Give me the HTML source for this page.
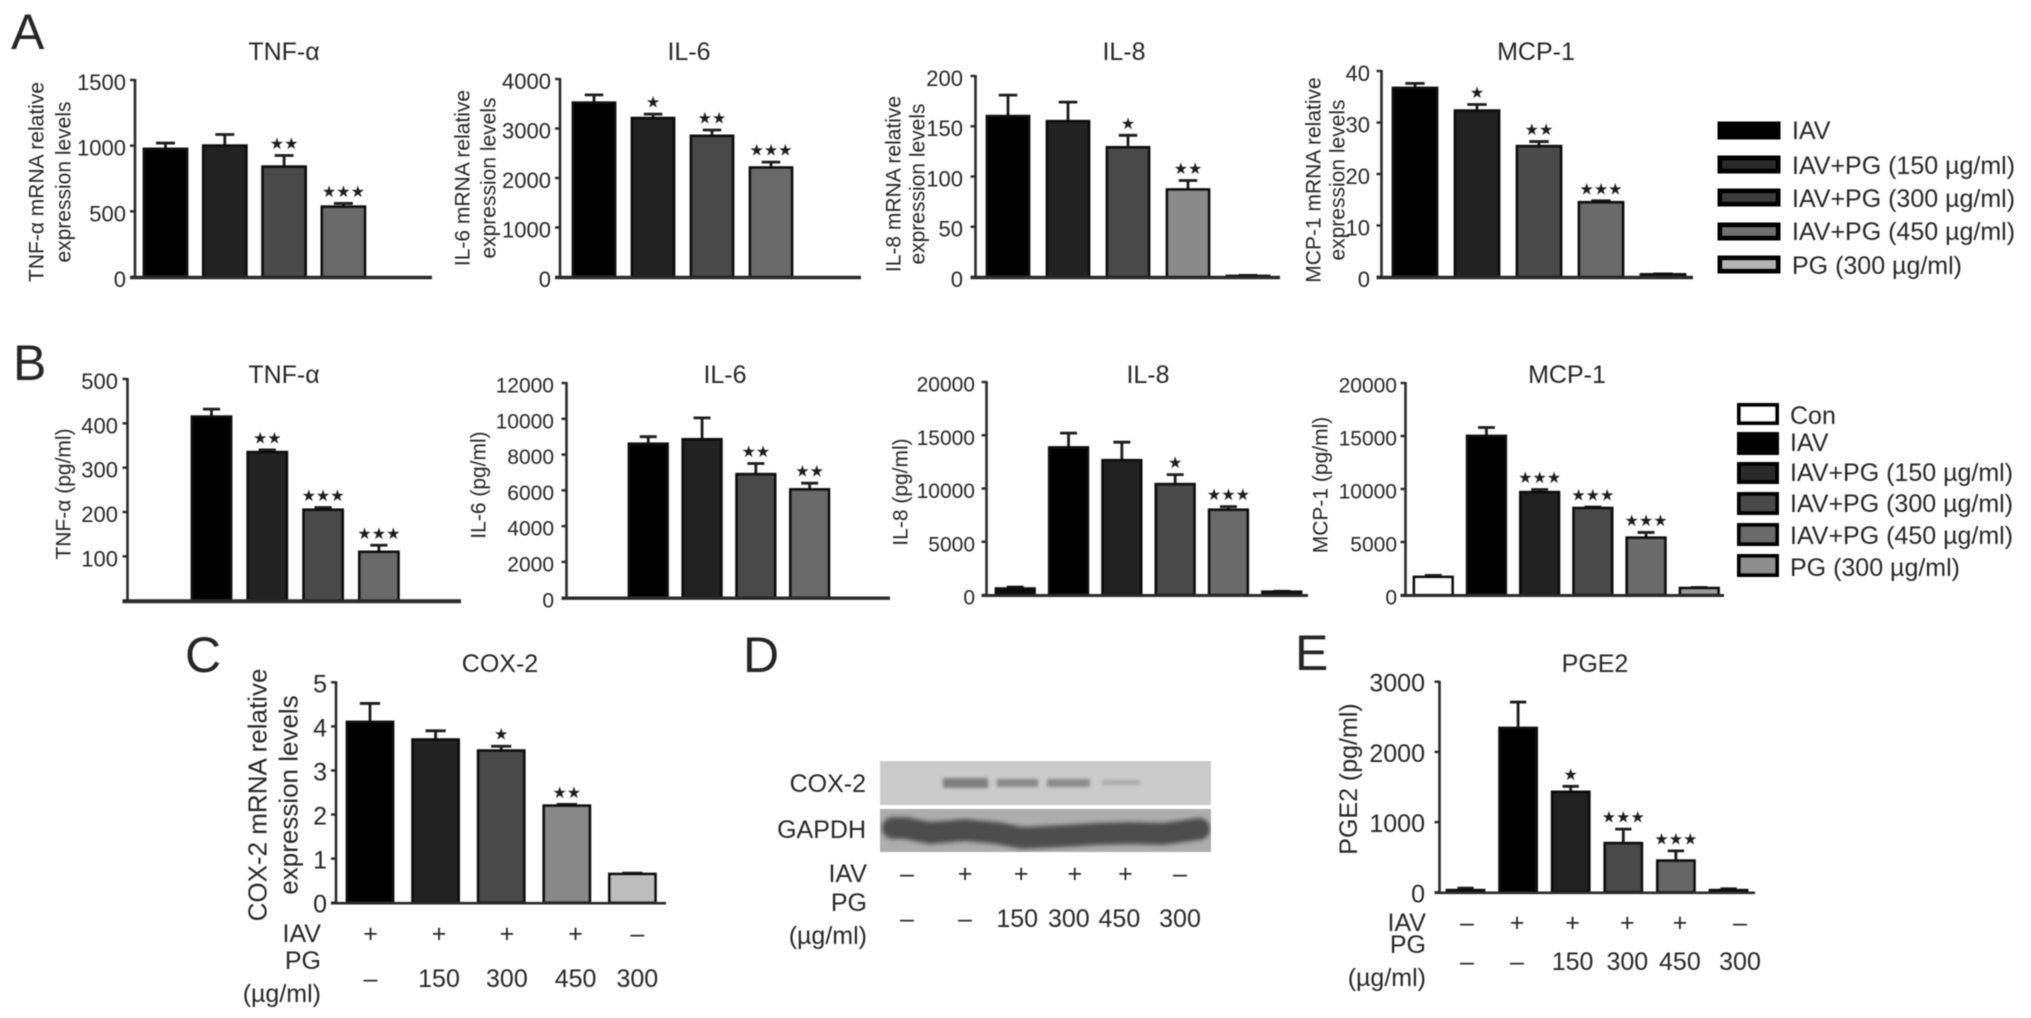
<!DOCTYPE html>
<html lang="en">
<head>
<meta charset="utf-8">
<title>IAV and PG cytokine expression panels</title>
<style>
html,body{margin:0;padding:0;background:#fff;width:2031px;height:1018px;overflow:hidden}
svg{display:block}
text{font-family:"Liberation Sans",Arial,sans-serif;fill:#262626}
text.star{font-family:"DejaVu Sans",sans-serif;fill:#1c1c1c}
</style>
</head>
<body>
<svg id="fig" xmlns="http://www.w3.org/2000/svg" width="2031" height="1018" viewBox="0 0 2031 1018">
<defs>
<filter id="soft" filterUnits="userSpaceOnUse" x="0" y="0" width="2031" height="1018"><feGaussianBlur stdDeviation="0.65"/></filter>
<filter id="blot" x="-20%" y="-60%" width="140%" height="220%"><feGaussianBlur stdDeviation="1.6"/></filter>
<filter id="blot-wide" filterUnits="userSpaceOnUse" x="860" y="790" width="370" height="80"><feGaussianBlur stdDeviation="2.2"/></filter>
<clipPath id="gapdh-clip"><rect x="880" y="809" width="331" height="43"/></clipPath>
</defs>
<g id="root" filter="url(#soft)">
<text x="11" y="49" font-size="50">A</text>
<text x="13" y="380" font-size="50">B</text>
<text x="185" y="672" font-size="50">C</text>
<text x="743" y="672" font-size="50">D</text>
<text x="1295" y="670" font-size="50">E</text>

<g>
<rect x="1720" y="124" width="58" height="13" fill="#000" stroke="#000" stroke-width="5"/>
<text x="1792" y="139" font-size="25">IAV</text>
<rect x="1720" y="158" width="58" height="13" fill="#2a2a2a" stroke="#000" stroke-width="5"/>
<text x="1792" y="174" font-size="25">IAV+PG (150 µg/ml)</text>
<rect x="1720" y="191" width="58" height="13" fill="#3c3c3c" stroke="#000" stroke-width="5"/>
<text x="1792" y="207" font-size="25">IAV+PG (300 µg/ml)</text>
<rect x="1720" y="225" width="58" height="13" fill="#707070" stroke="#000" stroke-width="5"/>
<text x="1792" y="240" font-size="25">IAV+PG (450 µg/ml)</text>
<rect x="1720" y="258" width="58" height="13" fill="#b4b4b4" stroke="#000" stroke-width="5"/>
<text x="1792" y="274" font-size="25">PG (300 µg/ml)</text>
</g>

<g>
<rect x="1739" y="405" width="38" height="18" fill="#fff" stroke="#000" stroke-width="4"/>
<text x="1790" y="424" font-size="25">Con</text>
<rect x="1739" y="434" width="38" height="19" fill="#000" stroke="#000" stroke-width="4"/>
<text x="1790" y="451" font-size="25">IAV</text>
<rect x="1739" y="464" width="38" height="18" fill="#2a2a2a" stroke="#000" stroke-width="4"/>
<text x="1790" y="481" font-size="25">IAV+PG (150 µg/ml)</text>
<rect x="1739" y="494" width="38" height="19" fill="#4a4a4a" stroke="#000" stroke-width="4"/>
<text x="1790" y="512" font-size="25">IAV+PG (300 µg/ml)</text>
<rect x="1739" y="525" width="38" height="19" fill="#6a6a6a" stroke="#000" stroke-width="4"/>
<text x="1790" y="544" font-size="25">IAV+PG (450 µg/ml)</text>
<rect x="1739" y="556" width="38" height="19" fill="#8e8e8e" stroke="#000" stroke-width="4"/>
<text x="1790" y="576" font-size="25">PG (300 µg/ml)</text>
</g>

<g>
<rect x="880" y="761" width="331" height="44" fill="#cbcbcb"/>
<rect x="880" y="809" width="331" height="43" fill="#adadad"/>
<g filter="url(#blot)">
<rect x="943" y="778" width="45" height="10" fill="#7e7e7e"/>
<rect x="997" y="779" width="41" height="8" fill="#888"/>
<rect x="1047" y="779" width="43" height="8" fill="#8a8a8a"/>
<rect x="1102" y="780" width="38" height="5" fill="#aaa"/>
</g>
<g clip-path="url(#gapdh-clip)">
<polyline points="893,828 905,828 930,833 965,830 997,833 1023,838 1063,836 1097,834 1130,833 1163,834 1199,829" fill="none" stroke="#4e4e4e" stroke-width="22" stroke-linecap="round" filter="url(#blot-wide)"/>
</g>
<text x="866" y="792" font-size="25" text-anchor="end">COX-2</text>
<text x="866" y="838" font-size="25" text-anchor="end">GAPDH</text>
</g>
</g>
</svg>

<script>
// Panel A (mRNA)
const aTnfTicks = [0, 500, 1000, 1500];
const aTnfValues = [975, 1000, 840, 535];
const aTnfErrors = [1020, 1085, 925, 560];
const aTnfStars = [0, 0, 2, 3];

const aIl6Ticks = [0, 1000, 2000, 3000, 4000];
const aIl6Values = [3520, 3210, 2850, 2210];
const aIl6Errors = [3680, 3290, 2970, 2320];
const aIl6Stars = [0, 1, 2, 3];

const aIl8Ticks = [0, 50, 100, 150, 200];
const aIl8Values = [160, 155, 129, 87, 1];
const aIl8Errors = [181, 174, 141, 96, 1.6];
const aIl8Stars = [0, 0, 1, 2, 0];

const aMcpTicks = [0, 10, 20, 30, 40];
const aMcpValues = [36.7, 32.3, 25.4, 14.5, 0.5];
const aMcpErrors = [37.6, 33.5, 26.3, 14.8, 0.6];
const aMcpStars = [0, 1, 2, 3, 0];

// Panel B (protein)
const bTnfTicks = [100, 200, 300, 400, 500];
const bTnfValues = [415, 335, 205, 110];
const bTnfErrors = [432, 340, 210, 125];
const bTnfStars = [0, 2, 3, 3];

const bIl6Ticks = [0, 2000, 4000, 6000, 8000, 10000, 12000];
const bIl6Values = [8600, 8850, 6900, 6050];
const bIl6Errors = [9000, 10050, 7500, 6400];
const bIl6Stars = [0, 0, 2, 2];

const bIl8Ticks = [0, 5000, 10000, 15000, 20000];
const bIl8Values = [600, 13850, 12650, 10400, 8000, 300];
const bIl8Errors = [750, 15200, 14350, 11300, 8300, 350];
const bIl8Stars = [0, 0, 0, 1, 3, 0];

const bMcpTicks = [0, 5000, 10000, 15000, 20000];
const bMcpValues = [1700, 15000, 9700, 8200, 5400, 650];
const bMcpErrors = [1850, 15800, 9950, 8300, 5900, 700];
const bMcpStars = [0, 0, 3, 3, 3, 0];

// Panel C
const cTicks = [0, 1, 2, 3, 4, 5];
const cValues = [4.1, 3.7, 3.45, 2.2, 0.65];
const cErrors = [4.52, 3.9, 3.55, 2.23, 0.67];
const cStars = [0, 0, 1, 2, 0];
const cIavRow = ['+', '+', '+', '+', '–'];
const cPgRow = ['–', '150', '300', '450', '300'];

// Panel D
const dIavRow = ['–', '+', '+', '+', '+', '–'];
const dPgRow = ['–', '–', '150', '300', '450', '300'];

// Panel E
const eTicks = [0, 1000, 2000, 3000];
const eValues = [30, 2340, 1430, 700, 450, 30];
const eErrors = [60, 2710, 1510, 900, 590, 50];
const eStars = [0, 0, 1, 3, 3, 0];
const eIavRow = ['–', '+', '+', '+', '+', '–'];
const ePgRow = ['–', '–', '150', '300', '450', '300'];

const svgNS = 'http://www.w3.org/2000/svg';
const root = document.getElementById('root');

function make(parent, tag, attrs) {
  const el = document.createElementNS(svgNS, tag);
  for (const k in attrs) el.setAttribute(k, attrs[k]);
  parent.appendChild(el);
  return el;
}

function label(parent, x, y, str, size, anchor, rotate) {
  const attrs = { x: x, y: y + size * 0.36, 'font-size': size, 'text-anchor': anchor };
  if (rotate) attrs.transform = 'rotate(-90 ' + x + ' ' + y + ')';
  const t = make(parent, 'text', attrs);
  t.textContent = str;
  return t;
}

function drawPanel(p) {
  const g = make(root, 'g', {});
  
  

  const top = p.ticks[p.ticks.length - 1];
  const yScale = v => p.y0 - (v / top) * (p.y0 - p.yTop);
  const xScale = i => p.barX + i * p.step;

  p.values.forEach((v, i) => {
    const x = xScale(i), cx = x + p.barW / 2;
    const ey = yScale(p.errors[i]), by = yScale(v);
    const err = make(g, 'path', {
      d: 'M' + cx + ' ' + by + 'V' + ey + 'M' + (cx - p.barW * 0.22) + ' ' + ey + 'H' + (cx + p.barW * 0.22),
      stroke: '#1a1a1a', 'stroke-width': 2.8, fill: 'none'
    });
    
    

    const bar = make(g, 'rect', {
      x: x, y: by, width: p.barW, height: Math.max(p.y0 - by, 0),
      fill: p.colors[i], stroke: '#111', 'stroke-width': 2.8
    });
    
    

    if (p.stars[i] > 0) {
      const s = make(g, 'text', {
        x: cx, y: ey - 6.5, 'font-size': p.starSize || 16, 'text-anchor': 'middle', class: 'star'
      });
      
      
      s.textContent = '★'.repeat(p.stars[i]);
    }
  });

  const yAxis = make(g, 'line', {
    x1: p.axisX, x2: p.axisX, y1: p.yTop - 1, y2: p.y0,
    stroke: '#2a2a2a', 'stroke-width': 2.6
  });
  
  

  const xAxis = make(g, 'line', {
    x1: p.axisX - 5, x2: p.xEnd, y1: p.y0 + 0.5, y2: p.y0 + 0.5,
    stroke: '#2a2a2a', 'stroke-width': p.baseW || 3.4
  });
  
  

  p.ticks.forEach(t => {
    const y = yScale(t);
    const tick = make(g, 'line', {
      x1: p.axisX - 5, x2: p.axisX, y1: y, y2: y, stroke: '#2a2a2a', 'stroke-width': 2.4
    });
    
    

    const tl = label(g, p.tickX, y + (p.tickShift || 2), String(t), p.tickSize, 'end');
    
    
  });

  const title = label(g, p.titleX, p.titleY, p.title, 25, 'middle');
  
  

  p.yTitle.forEach((line, i) => {
    const yt = label(g, p.yTitleX[i], p.yTitleY, line, p.yTitleSize, 'middle', true);
    
    
  });
}

function drawRows(r) {
  const g = make(root, 'g', {});
  
  

  const iavHead = label(g, r.headX, r.iavY, 'IAV', 25, 'end');
  
  

  const pgHead = label(g, r.headX, r.pgHeadY, 'PG', 25, 'end');
  
  

  const unitHead = label(g, r.headX, r.unitY, '(µg/ml)', 25, 'end');
  
  

  r.iav.forEach((s, i) => {
    const c = label(g, r.iavX + i * r.laneStep + (r.iavJog[i] || 0), r.iavY, s, 25, 'middle');
    
    
  });
  r.pg.forEach((s, i) => {
    const c = label(g, r.iavX + i * r.laneStep + (r.pgJog[i] || 0), r.pgY, s, 25, 'middle');
    
    
  });
}

const gA = ['#000', '#232323', '#484848', '#6a6a6a', '#8a8a8a'];
const gB = ['#000', '#232323', '#484848', '#6a6a6a'];
const gB6 = ['#fff', '#000', '#232323', '#484848', '#6a6a6a', '#9a9a9a'];

drawPanel({ name: 'chart-a-tnf', title: 'TNF-α', titleX: 284, titleY: 51, ticks: aTnfTicks, values: aTnfValues, errors: aTnfErrors, stars: aTnfStars,
  axisX: 135, yTop: 80, y0: 277, barX: 144, step: 59.3, barW: 43, xEnd: 432, tickX: 126, tickSize: 22, colors: gA,
  yTitle: ['TNF-α mRNA relative', 'expression levels'], yTitleX: [36, 63], yTitleY: 182, yTitleSize: 21 });

drawPanel({ name: 'chart-a-il6', title: 'IL-6', titleX: 689, titleY: 51, ticks: aIl6Ticks, values: aIl6Values, errors: aIl6Errors, stars: aIl6Stars,
  axisX: 560, yTop: 79, y0: 277, barX: 573, step: 59, barW: 42, xEnd: 861, tickX: 551, tickSize: 22, colors: gA,
  yTitle: ['IL-6 mRNA relative', 'expression levels'], yTitleX: [462, 488], yTitleY: 178, yTitleSize: 21 });

drawPanel({ name: 'chart-a-il8', title: 'IL-8', titleX: 1124, titleY: 51, ticks: aIl8Ticks, values: aIl8Values, errors: aIl8Errors, stars: aIl8Stars,
  axisX: 975.5, yTop: 76, y0: 277, barX: 987, step: 60, barW: 42, xEnd: 1280, tickX: 963, tickSize: 22, colors: ['#000', '#232323', '#484848', '#8a8a8a', '#111'],
  yTitle: ['IL-8 mRNA relative', 'expression levels'], yTitleX: [893, 917], yTitleY: 184, yTitleSize: 21 });

drawPanel({ name: 'chart-a-mcp1', title: 'MCP-1', titleX: 1536, titleY: 51, ticks: aMcpTicks, values: aMcpValues, errors: aMcpErrors, stars: aMcpStars,
  axisX: 1381.5, yTop: 71, y0: 277, barX: 1393, step: 62, barW: 44, xEnd: 1693, tickX: 1370, tickSize: 22, colors: ['#000', '#232323', '#484848', '#6a6a6a', '#111'],
  yTitle: ['MCP-1 mRNA relative', 'expression levels'], yTitleX: [1313, 1337], yTitleY: 180, yTitleSize: 21 });

drawPanel({ name: 'chart-b-tnf', title: 'TNF-α', titleX: 284, titleY: 374, ticks: bTnfTicks, values: bTnfValues, errors: bTnfErrors, stars: bTnfStars,
  axisX: 127.5, yTop: 379, y0: 600.7, barX: 192, step: 55.8, barW: 39, xEnd: 461, tickX: 118, tickSize: 22, colors: gB, baseW: 4,
  yTitle: ['TNF-α (pg/ml)'], yTitleX: [63], yTitleY: 494, yTitleSize: 21 });

drawPanel({ name: 'chart-b-il6', title: 'IL-6', titleX: 725, titleY: 374, ticks: bIl6Ticks, values: bIl6Values, errors: bIl6Errors, stars: bIl6Stars,
  axisX: 566.5, yTop: 383, y0: 597.7, barX: 629, step: 53.8, barW: 38.5, xEnd: 890, tickX: 554, tickSize: 21, colors: gB,
  yTitle: ['IL-6 (pg/ml)'], yTitleX: [478], yTitleY: 485, yTitleSize: 21 });

drawPanel({ name: 'chart-b-il8', title: 'IL-8', titleX: 1148, titleY: 374, ticks: bIl8Ticks, values: bIl8Values, errors: bIl8Errors, stars: bIl8Stars,
  axisX: 986.5, yTop: 382, y0: 595, barX: 996, step: 53.3, barW: 38.5, xEnd: 1308, tickX: 975, tickSize: 21, colors: ['#111', '#000', '#232323', '#484848', '#6a6a6a', '#222'], baseW: 3,
  yTitle: ['IL-8 (pg/ml)'], yTitleX: [900], yTitleY: 492, yTitleSize: 21 });

drawPanel({ name: 'chart-b-mcp1', title: 'MCP-1', titleX: 1567, titleY: 374, ticks: bMcpTicks, values: bMcpValues, errors: bMcpErrors, stars: bMcpStars,
  axisX: 1405.5, yTop: 383, y0: 595, barX: 1414, step: 53.2, barW: 38.5, xEnd: 1724, tickX: 1397, tickSize: 21, colors: gB6, baseW: 3,
  yTitle: ['MCP-1 (pg/ml)'], yTitleX: [1320], yTitleY: 485, yTitleSize: 21 });

drawPanel({ name: 'chart-c-cox2', title: 'COX-2', titleX: 500, titleY: 663, ticks: cTicks, values: cValues, errors: cErrors, stars: cStars,
  axisX: 336, yTop: 682.3, y0: 902.7, barX: 347, step: 65.6, barW: 46, xEnd: 666, tickX: 327, tickSize: 25, tickShift: 1, colors: ['#000', '#232323', '#484848', '#888', '#bdbdbd'], baseW: 2.6,
  yTitle: ['COX-2 mRNA relative', 'expression levels'], yTitleX: [257, 288], yTitleY: 795, yTitleSize: 26 });

drawPanel({ name: 'chart-e-pge2', title: 'PGE2', titleX: 1595, titleY: 663, ticks: eTicks, values: eValues, errors: eErrors, stars: eStars,
  axisX: 1439.5, yTop: 681.7, y0: 892.3, barX: 1447, step: 52.6, barW: 37, xEnd: 1755, tickX: 1425, tickSize: 25, tickShift: 1, colors: ['#000', '#000', '#232323', '#484848', '#666', '#000'], baseW: 2.6,
  yTitle: ['PGE2 (pg/ml)'], yTitleX: [1348], yTitleY: 779, yTitleSize: 25 });

drawRows({ name: 'condition-table-c', headX: 321, iavY: 933, pgHeadY: 960, pgY: 978, unitY: 993,
  iavX: 370.5, laneStep: 66.7, iavJog: [0, 1.8, 3, 5, 0], pgJog: [0, 1.8, 3, 5, 0], iav: cIavRow, pg: cPgRow });

drawRows({ name: 'condition-table-d', headX: 867, iavY: 873, pgHeadY: 902, pgY: 918, unitY: 935,
  iavX: 907, laneStep: 54.6, iavJog: [0, 3.4, 5, 4, 0, 0], pgJog: [0, 3.4, 1, -2, -6, 0], iav: dIavRow, pg: dPgRow });

drawRows({ name: 'condition-table-e', headX: 1426, iavY: 922, pgHeadY: 944, pgY: 961, unitY: 977,
  iavX: 1467, laneStep: 54.6, iavJog: [0, -4.6, -3.6, -3.5, -5.5, 0], pgJog: [0, -4.6, -3.6, -3.5, -5.5, 0], iav: eIavRow, pg: ePgRow });
</script>
</body>
</html>
